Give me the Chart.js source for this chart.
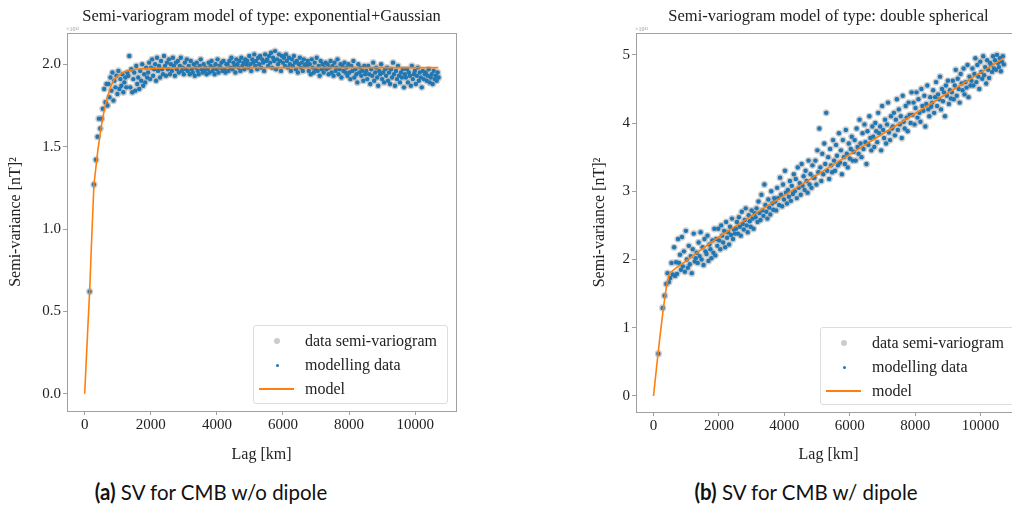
<!DOCTYPE html>
<html>
<head>
<meta charset="utf-8">
<script src="https://cdn.jsdelivr.net/npm/chart.js@4"></script>
<style>
  html, body { margin: 0; padding: 0; background: #fff; }
  body { width: 1012px; height: 509px; position: relative; overflow: hidden; }
  canvas { position: absolute; top: 0; }
  .expo { position: absolute; font: 6px "Liberation Serif", serif; color: #999; }
  .legend {
    position: absolute; border: 1px solid #ddd; border-radius: 3px; background: rgba(255,255,255,0.8);
    font: 16px "Liberation Serif", serif; color: #222;
  }
  .legend .row { position: absolute; left: 0; height: 20px; line-height: 20px; white-space: nowrap; }
  .legend .lbl { position: absolute; left: 51px; top: 0; }
  .legend .gray { position: absolute; left: 20px; top: 7px; width: 6px; height: 6px; border-radius: 50%; background: #ccc; }
  .legend .blue { position: absolute; left: 21.5px; top: 8.5px; width: 3px; height: 3px; border-radius: 50%; background: #1f77b4; }
  .legend .line { position: absolute; left: 5px; top: 9px; width: 35px; height: 2px; background: #ff7f0e; }
  .caption { position: absolute; top: 478px; width: 400px; text-align: center; font: 22px Lato, "Open Sans", sans-serif; color: #111; }
  .caption span { display: inline-block; transform: scaleX(0.93); }
</style>
</head>
<body>
<canvas id="svA" width="470" height="470" style="left:0px"></canvas>
<canvas id="svB" width="470" height="470" style="left:560px"></canvas>

<div class="expo" style="left:66px;top:26px">×10¹¹</div>
<div class="expo" style="left:635px;top:26px">×10¹¹</div>

<div class="legend" style="left:253px;top:325px;width:193px;height:77px">
  <div class="row" style="top:5px"><div class="gray"></div><span class="lbl">data semi-variogram</span></div>
  <div class="row" style="top:29px"><div class="blue"></div><span class="lbl">modelling data</span></div>
  <div class="row" style="top:53px"><div class="line"></div><span class="lbl">model</span></div>
</div>
<div class="legend" style="left:820px;top:327px;width:200px;height:76px">
  <div class="row" style="top:5px"><div class="gray"></div><span class="lbl">data semi-variogram</span></div>
  <div class="row" style="top:29px"><div class="blue"></div><span class="lbl">modelling data</span></div>
  <div class="row" style="top:53px"><div class="line"></div><span class="lbl">model</span></div>
</div>

<div class="caption" style="left:11px"><span><b>(a)</b> SV for CMB w/o dipole</span></div>
<div class="caption" style="left:606px"><span><b>(b)</b> SV for CMB w/ dipole</span></div>

<script>
// lag bins (km), shared by both panels
var lags = [
  150,280,340,390,430,470,510,550,590,630,660,690,
  720,750,780,810,840,870,900,930,960,990,1020,1050,1080,1110,1140,1170,1200,1230,1260,1290,
  1320,1350,1380,1410,1440,1470,1500,1530,1560,1590,1620,1650,1680,1710,1740,1770,1800,1830,1860,1890,
  1920,1950,1980,2010,2040,2070,2100,2130,2160,2190,2220,2250,2280,2310,2340,2370,2400,2430,2460,2490,
  2520,2550,2580,2610,2640,2670,2700,2730,2760,2790,2820,2850,2880,2910,2940,2970,3000,3030,3060,3090,
  3120,3150,3180,3210,3240,3270,3300,3330,3360,3390,3420,3450,3480,3510,3540,3570,3600,3630,3660,3690,
  3720,3750,3780,3810,3840,3870,3900,3930,3960,3990,4020,4050,4080,4110,4140,4170,4200,4230,4260,4290,
  4320,4350,4380,4410,4440,4470,4500,4530,4560,4590,4620,4650,4680,4710,4740,4770,4800,4830,4860,4890,
  4920,4950,4980,5010,5040,5070,5100,5130,5160,5190,5220,5250,5280,5310,5340,5370,5400,5430,5460,5490,
  5520,5550,5580,5610,5640,5670,5700,5730,5760,5790,5820,5850,5880,5910,5940,5970,6000,6030,6060,6090,
  6120,6150,6180,6210,6240,6270,6300,6330,6360,6390,6420,6450,6480,6510,6540,6570,6600,6630,6660,6690,
  6720,6750,6780,6810,6840,6870,6900,6930,6960,6990,7020,7050,7080,7110,7140,7170,7200,7230,7260,7290,
  7320,7350,7380,7410,7440,7470,7500,7530,7560,7590,7620,7650,7680,7710,7740,7770,7800,7830,7860,7890,
  7920,7950,7980,8010,8040,8070,8100,8130,8160,8190,8220,8250,8280,8310,8340,8370,8400,8430,8460,8490,
  8520,8550,8580,8610,8640,8670,8700,8730,8760,8790,8820,8850,8880,8910,8940,8970,9000,9030,9060,9090,
  9120,9150,9180,9210,9240,9270,9300,9330,9360,9390,9420,9450,9480,9510,9540,9570,9600,9630,9660,9690,
  9720,9750,9780,9810,9840,9870,9900,9930,9960,9990,10020,10050,10080,10110,10140,10170,10200,10230,10260,10290,
  10320,10350,10380,10410,10440,10470,10500,10530,10560,10590,10620,10650,10680,10710
];

// (a) without dipole
var svNoDipole = [
  0.62,1.27,1.42,1.56,1.67,1.61,1.67,1.73,1.85,1.77,1.88,1.75,
  1.88,1.80,1.92,1.84,1.95,1.78,1.90,1.86,1.93,1.82,1.96,1.85,1.91,1.87,1.94,1.83,1.89,1.92,1.86,1.95,
  1.93,2.05,1.86,1.97,1.83,1.91,1.95,1.84,1.99,1.88,1.92,1.85,1.96,1.90,2.00,1.87,1.94,1.89,1.98,1.92,
  1.95,2.01,1.91,1.98,2.03,1.93,1.97,2.00,1.90,2.04,1.96,1.99,1.92,2.02,1.97,1.94,2.05,1.99,1.93,2.01,
  1.97,2.03,1.94,2.00,1.96,2.04,1.99,1.93,2.01,1.97,2.02,1.95,1.99,2.04,1.96,1.98,1.94,2.01,1.97,2.03,
  1.96,1.99,1.94,2.02,1.97,1.95,2.00,1.93,1.98,2.01,1.96,1.94,1.99,2.03,1.97,1.95,2.00,1.96,1.98,1.94,
  1.97,2.01,1.95,1.99,2.02,1.96,1.98,1.94,2.00,1.97,2.03,1.95,1.99,1.98,2.01,1.96,2.02,1.97,1.95,2.00,
  2.00,1.96,2.02,1.98,2.04,1.97,2.01,1.99,1.95,2.03,2.00,1.98,2.02,1.96,2.04,1.99,2.01,1.97,2.03,2.00,
  2.02,1.98,2.05,2.00,1.96,2.03,2.01,2.06,1.99,2.02,1.97,2.04,2.00,2.05,1.98,2.03,2.01,1.96,2.06,2.02,
  2.03,1.99,2.05,2.01,2.07,1.98,2.04,2.02,2.08,1.97,2.03,2.00,2.06,2.02,1.96,2.05,2.01,2.04,1.99,2.06,
  2.02,1.98,2.04,2.00,1.96,2.03,1.99,2.05,2.01,1.97,2.02,1.95,2.00,2.04,1.98,2.01,1.96,2.03,1.99,2.00,
  1.99,2.02,1.96,2.00,1.94,2.03,1.98,1.95,2.01,1.97,2.04,1.96,1.99,1.93,2.02,1.97,2.00,1.95,1.98,2.01,
  1.97,2.00,1.94,1.98,2.02,1.95,1.99,1.93,2.01,1.96,1.98,2.03,1.94,1.97,2.00,1.92,1.99,1.96,2.01,1.95,
  1.98,1.93,2.00,1.95,1.91,1.99,1.96,2.02,1.92,1.97,1.94,1.89,2.00,1.95,1.98,1.93,1.96,1.90,1.99,1.94,
  1.96,1.91,1.99,1.94,1.88,1.97,1.93,2.01,1.90,1.95,1.98,1.92,1.87,1.96,1.94,2.00,1.91,1.95,1.89,1.97,
  1.93,1.98,1.90,1.95,1.88,1.97,1.92,2.01,1.94,1.87,1.96,1.91,1.99,1.93,1.89,1.95,1.92,1.97,1.86,1.94,
  1.92,1.97,1.89,1.95,1.93,1.87,1.99,1.91,1.94,1.96,1.88,1.93,1.98,1.90,1.95,1.92,1.86,1.96,1.91,1.94,
  1.95,1.90,1.93,1.97,1.89,1.92,1.94,1.88,1.96,1.91,1.93,1.90,1.95,1.92
];

// (b) with dipole
var svDipole = [
  0.62,1.29,1.47,1.64,1.80,1.67,1.73,1.95,1.78,2.18,1.76,1.96,
  1.79,2.30,1.95,2.07,1.85,2.33,1.90,2.12,1.82,2.42,2.00,1.88,2.20,1.93,2.05,1.80,2.15,2.38,1.97,2.02,
  2.10,1.95,2.25,2.05,2.40,2.00,2.18,1.92,2.30,2.12,2.08,2.35,1.98,2.22,2.15,2.02,2.28,2.10,2.45,2.06,
  2.30,2.20,2.45,2.28,2.15,2.50,2.35,2.25,2.42,2.18,2.55,2.32,2.40,2.22,2.48,2.36,2.60,2.30,2.44,2.38,
  2.45,2.55,2.38,2.62,2.48,2.35,2.70,2.52,2.44,2.58,2.75,2.50,2.40,2.65,2.56,2.48,2.72,2.60,2.45,2.68,
  2.62,2.75,2.55,2.85,2.68,2.58,2.95,2.72,2.64,3.10,2.80,2.70,2.60,2.88,2.76,2.66,3.00,2.82,2.73,2.90,
  2.85,2.72,3.05,2.90,2.80,3.20,2.95,2.78,3.10,2.88,3.30,2.98,2.82,3.02,2.92,3.15,2.86,3.08,2.96,3.25,
  3.00,3.18,2.90,3.35,3.05,3.12,2.95,3.40,3.08,3.22,3.02,3.30,3.15,2.98,3.45,3.10,3.25,3.05,3.38,3.20,
  3.20,3.45,3.10,3.60,3.28,3.92,3.35,3.15,3.55,3.25,3.70,3.40,4.15,3.30,3.50,3.18,3.62,3.38,3.28,3.75,
  3.45,3.30,3.68,3.52,3.38,3.85,3.42,3.60,3.25,3.75,3.50,3.40,3.90,3.55,3.35,3.70,3.48,3.62,3.80,3.45,
  3.58,3.75,3.45,3.92,3.65,3.55,4.05,3.70,3.50,3.85,3.62,3.98,3.72,3.40,3.88,3.68,4.10,3.78,3.60,3.95,
  3.80,3.65,4.00,3.88,3.72,4.15,3.85,3.95,3.60,4.25,3.90,3.78,4.05,3.70,3.98,4.30,3.86,3.75,4.10,3.92,
  3.95,4.15,3.82,4.05,4.35,3.90,4.20,3.98,4.10,3.78,4.40,4.02,3.92,4.25,4.08,3.88,4.30,4.12,4.00,4.45,
  4.12,4.30,3.98,4.22,4.45,4.08,4.35,4.15,4.02,4.50,4.25,4.18,4.40,3.95,4.28,4.55,4.20,4.10,4.38,4.24,
  4.30,4.48,4.15,4.38,4.60,4.25,4.42,4.35,4.68,4.20,4.50,4.32,4.45,4.10,4.55,4.40,4.62,4.28,4.48,4.36,
  4.45,4.62,4.35,4.55,4.78,4.40,4.65,4.50,4.30,4.72,4.58,4.48,4.80,4.42,4.60,4.52,4.85,4.38,4.68,4.55,
  4.62,4.80,4.55,4.72,4.95,4.60,4.85,4.68,4.50,4.90,4.75,4.65,4.98,4.70,4.82,4.58,4.92,4.78,4.66,4.88,
  4.85,4.75,4.98,4.80,4.92,4.78,5.00,4.88,4.82,4.95,4.76,4.90,4.98,4.86
];

// fitted models
var modelLagsA = [0, 50, 100, 150, 200, 280, 400, 500, 600, 700, 800, 900, 1000, 1200, 1500, 2000, 3000, 5000, 8000, 10700];
var modelSvA = [0, 0.21, 0.42, 0.62, 0.88, 1.27, 1.48, 1.62, 1.73, 1.81, 1.87, 1.91, 1.93, 1.955, 1.97, 1.975, 1.98, 1.98, 1.98, 1.98];
var modelLagsB = [0, 100, 200, 300, 400, 490, 700, 1000, 1500, 2000, 3000, 4000, 5000, 6000, 7000, 8000, 9000, 10000, 10700];
var modelSvB = [0, 0.45, 0.88, 1.28, 1.62, 1.80, 1.88, 1.98, 2.16, 2.33, 2.64, 2.94, 3.24, 3.54, 3.84, 4.14, 4.44, 4.74, 4.95];

var xTicks = [0, 2000, 4000, 6000, 8000, 10000];
var yTicksA = [0, 0.5, 1.0, 1.5, 2.0];
var yTicksB = [0, 1, 2, 3, 4, 5];

var serif = "'Liberation Serif', 'DejaVu Serif', serif";
var axisGray = "#a0a0a0";

function pairs(xs, ys) {
    return xs.map(function (x, i) { return { x: x, y: ys[i] }; });
}

// box around the plot area (matplotlib spines) + title centred over the plot area
var framePlugin = {
    id: "frame",
    afterDraw: function (chart) {
        var a = chart.chartArea, ctx = chart.ctx;
        ctx.save();
        ctx.strokeStyle = axisGray;
        ctx.lineWidth = 1;
        ctx.strokeRect(Math.round(a.left) + 0.5, Math.round(a.top) + 0.5,
                Math.round(a.right - a.left), Math.round(a.bottom - a.top));
        ctx.fillStyle = "#222";
        ctx.font = "16.5px " + serif;
        ctx.textAlign = "center";
        ctx.textBaseline = "middle";
        ctx.fillText(chart.options.plotTitle, (a.left + a.right) / 2, 17);
        ctx.restore();
    }
};

function makeChart(id, opt) {
    var ctx = document.getElementById(id).getContext("2d");
    return new Chart(ctx, {
        type: "scatter",
        data: {
            datasets: [
                {
                    label: "model",
                    type: "line",
                    data: pairs(opt.modelX, opt.modelY),
                    borderColor: "#ff7f0e",
                    borderWidth: 1.6,
                    pointRadius: 0,
                    fill: false,
                    order: 0
                },
                {
                    label: "modelling data",
                    data: pairs(lags, opt.values),
                    backgroundColor: "#1f77b4",
                    borderWidth: 0,
                    pointRadius: 2.2,
                    order: 1
                },
                {
                    label: "data semi-variogram",
                    data: pairs(lags, opt.values),
                    backgroundColor: "rgba(190,190,190,0.75)",
                    borderWidth: 0,
                    pointRadius: 3.6,
                    order: 2
                }
            ]
        },
        options: {
            responsive: false,
            animation: false,
            devicePixelRatio: 1,
            plotTitle: opt.title,
            layout: { padding: opt.padding },
            plugins: {
                legend: { display: false },
                tooltip: { enabled: false },
                title: { display: false }
            },
            scales: {
                x: {
                    type: "linear",
                    min: -535,
                    max: 11235,
                    afterBuildTicks: function (s) { s.ticks = xTicks.map(function (v) { return { value: v }; }); },
                    afterFit: function (s) { s.height = opt.xHeight; },
                    grid: { display: true, drawOnChartArea: false, drawTicks: true, tickLength: 4, color: axisGray },
                    border: { display: true, color: axisGray },
                    ticks: {
                        color: "#222",
                        font: { family: serif, size: 15 },
                        padding: 1,
                        maxRotation: 0,
                        callback: function (v) { return String(v); }
                    },
                    title: { display: true, text: "Lag [km]", color: "#222", font: { family: serif, size: 16 }, padding: { top: 4, bottom: 6 } }
                },
                y: {
                    type: "linear",
                    min: opt.yMin,
                    max: opt.yMax,
                    afterBuildTicks: function (s) { s.ticks = opt.yTicks.map(function (v) { return { value: v }; }); },
                    afterFit: function (s) { s.width = opt.yWidth; },
                    grid: { display: true, drawOnChartArea: false, drawTicks: true, tickLength: 4, color: axisGray },
                    border: { display: true, color: axisGray },
                    ticks: {
                        color: "#222",
                        font: { family: serif, size: 15 },
                        padding: 2,
                        callback: function (v) { return opt.decimals ? v.toFixed(1) : String(v); }
                    },
                    title: { display: true, text: "Semi-variance [nT]²", color: "#222", font: { family: serif, size: 16 }, padding: { top: 2, bottom: 4 } }
                }
            }
        },
        plugins: [framePlugin]
    });
}

makeChart("svA", {
    title: "Semi-variogram model of type: exponential+Gaussian",
    values: svNoDipole,
    modelX: modelLagsA,
    modelY: modelSvA,
    yTicks: yTicksA,
    yMin: -0.105,
    yMax: 2.19,
    decimals: true,
    padding: { left: 4, right: 14, top: 33, bottom: 0 },
    yWidth: 63,
    xHeight: 59
});

makeChart("svB", {
    title: "Semi-variogram model of type: double spherical",
    values: svDipole,
    modelX: modelLagsB,
    modelY: modelSvB,
    yTicks: yTicksB,
    yMin: -0.235,
    yMax: 5.32,
    decimals: false,
    padding: { left: 28, right: 9, top: 33, bottom: 0 },
    yWidth: 48,
    xHeight: 58
});
</script>
</body>
</html>
